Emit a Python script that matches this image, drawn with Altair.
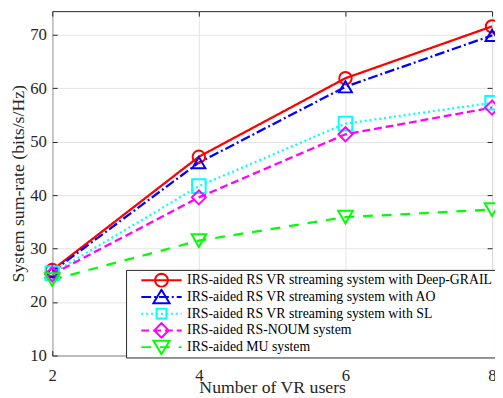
import math
import altair as alt
import pandas as pd

users = [2, 4, 6, 8]
series_names = [
    "IRS-aided RS VR streaming system with Deep-GRAIL",
    "IRS-aided RS VR streaming system with AO",
    "IRS-aided RS VR streaming system with SL",
    "IRS-aided RS-NOUM system",
    "IRS-aided MU system",
]
deep_grail = [26.0, 47.2, 61.9, 71.6]
ao = [25.7, 46.1, 60.3, 69.9]
sl = [25.4, 41.7, 53.4, 57.3]
noum = [25.2, 39.6, 51.4, 56.4]
mu = [24.2, 31.5, 35.9, 37.3]

colors = ["#ff0000", "#0000ff", "#00ffff", "#ff00ff", "#00ff00"]
dashes = [[1, 0], [10, 3, 2, 3], [2, 3], [8, 4], [10, 9]]
shapes = ["circle", "triangle-up", "square", "diamond", "triangle-down"]
y_ticks = [10, 20, 30, 40, 50, 60, 70]

rows = []
for name, vals in zip(series_names, [deep_grail, ao, sl, noum, mu]):
    for u, v in zip(users, vals):
        rows.append({"series": name, "users": u, "rate": v})
df = pd.DataFrame(rows)

# legend symbol paths: a line segment (with its dash pattern) through an open marker
UNIT = 5.0  # px per path unit for symbol size 100
HALF = 20.5  # half length of legend line, px
circle_pts = ["%.3f,%.3f" % (1.3 * math.cos(2 * math.pi * k / 24), 1.3 * math.sin(2 * math.pi * k / 24)) for k in range(24)]
marker_paths = [
    "M" + "L".join(circle_pts) + "Z",
    "M0,-1.45L-1.65,1.3L1.65,1.3Z",
    "M-1,-1L1,-1L1,1L-1,1Z",
    "M-1.45,0L0,-1.5L1.45,0L0,1.5Z",
    "M0,1.45L-1.65,-1.3L1.65,-1.3Z",
]


def line_path(pattern):
    if pattern[1] == 0:
        return "M%.3f,0L%.3f,0" % (-HALF / UNIT, HALF / UNIT)
    segs = []
    x = -HALF
    i = 0
    while x < HALF:
        d = pattern[i % len(pattern)]
        if i % 2 == 0:
            x2 = min(x + d, HALF)
            segs.append("M%.3f,0L%.3f,0" % (x / UNIT, x2 / UNIT))
        x += d
        i += 1
    return "".join(segs)


legend_paths = [line_path(p) + m for p, m in zip(dashes, marker_paths)]

FONT = "Liberation Serif"
TXT = "#262626"
GRID = "#e3e3e3"


def tick_axis(orient, vals):
    return alt.Axis(orient=orient, values=vals, labels=False, title=None,
                    grid=False, domain=False, tickColor=TXT, tickSize=5,
                    tickWidth=1, offset=-5)


x_main = alt.X("users:Q", scale=alt.Scale(domain=[2, 8], nice=False),
               axis=alt.Axis(values=users, title="Number of VR users", grid=True,
                             gridColor=GRID, domain=False, ticks=False,
                             labelPadding=12, labelFontSize=17, labelFlush=False,
                             titleFontSize=18, titlePadding=-4, labelFont=FONT,
                             titleFont=FONT, labelColor=TXT, titleColor=TXT,
                             titleFontWeight="normal", format="d"))
y_main = alt.Y("rate:Q", scale=alt.Scale(domain=[10, 74.45], nice=False),
               axis=alt.Axis(values=y_ticks, title="System sum-rate (bits/s/Hz)",
                             grid=True, gridColor=GRID, domain=False,
                             ticks=False, labelPadding=6, labelFlush=False,
                             labelFontSize=17, titleFontSize=18, titlePadding=2,
                             labelFont=FONT, titleFont=FONT, labelColor=TXT,
                             titleColor=TXT, titleFontWeight="normal"))

color_scale = alt.Scale(domain=series_names, range=colors)

lines = alt.Chart(df).mark_line(strokeWidth=2.3).encode(
    x=x_main, y=y_main,
    color=alt.Color("series:N", scale=color_scale, legend=None),
    strokeDash=alt.StrokeDash("series:N", scale=alt.Scale(domain=series_names, range=dashes), legend=None),
)

points = alt.Chart(df).mark_point(filled=False, strokeWidth=2, opacity=1).encode(
    x=alt.X("users:Q", axis=tick_axis("top", users)),
    y=alt.Y("rate:Q", axis=tick_axis("right", y_ticks)),
    color=alt.Color("series:N", scale=color_scale, legend=None),
    shape=alt.Shape("series:N", scale=alt.Scale(domain=series_names, range=shapes), legend=None),
    size=alt.Size("series:N", scale=alt.Scale(domain=series_names, range=[160, 220, 120, 220, 220]), legend=None),
)

leg = alt.Legend(orient="none", legendX=75, legendY=263, title=None,
                 labelFont=FONT, labelFontSize=14, labelColor="black",
                 symbolSize=100, symbolStrokeWidth=2, symbolOpacity=1,
                 symbolFillColor="transparent", clipHeight=17,
                 strokeColor=TXT, fillColor="white", padding=2,
                 rowPadding=0, symbolOffset=27, labelOffset=19, labelLimit=0,
                 labelExpr="datum.label + '\u00a0\u00a0\u00a0'")

legend_layer = alt.Chart(df).mark_point(filled=False, opacity=0, size=100, strokeWidth=2).encode(
    x=alt.X("users:Q", axis=tick_axis("bottom", users)),
    y=alt.Y("rate:Q", axis=tick_axis("left", y_ticks)),
    shape=alt.Shape("series:N", scale=alt.Scale(domain=series_names, range=legend_paths), legend=leg),
    color=alt.Color("series:N", scale=alt.Scale(domain=series_names, range=colors), legend=leg),
)

chart = alt.layer(lines, points, legend_layer).resolve_scale(
    shape="independent", color="independent"
).resolve_axis(x="independent", y="independent").properties(
    width=447, height=350,
    autosize=alt.AutoSizeParams(type="none"),
    padding={"left": 45, "top": 0, "right": 3, "bottom": 40},
    background="white",
).configure_view(stroke=TXT, strokeWidth=1)

chart.save("out.html", embed_options={"renderer": "svg", "actions": False})
